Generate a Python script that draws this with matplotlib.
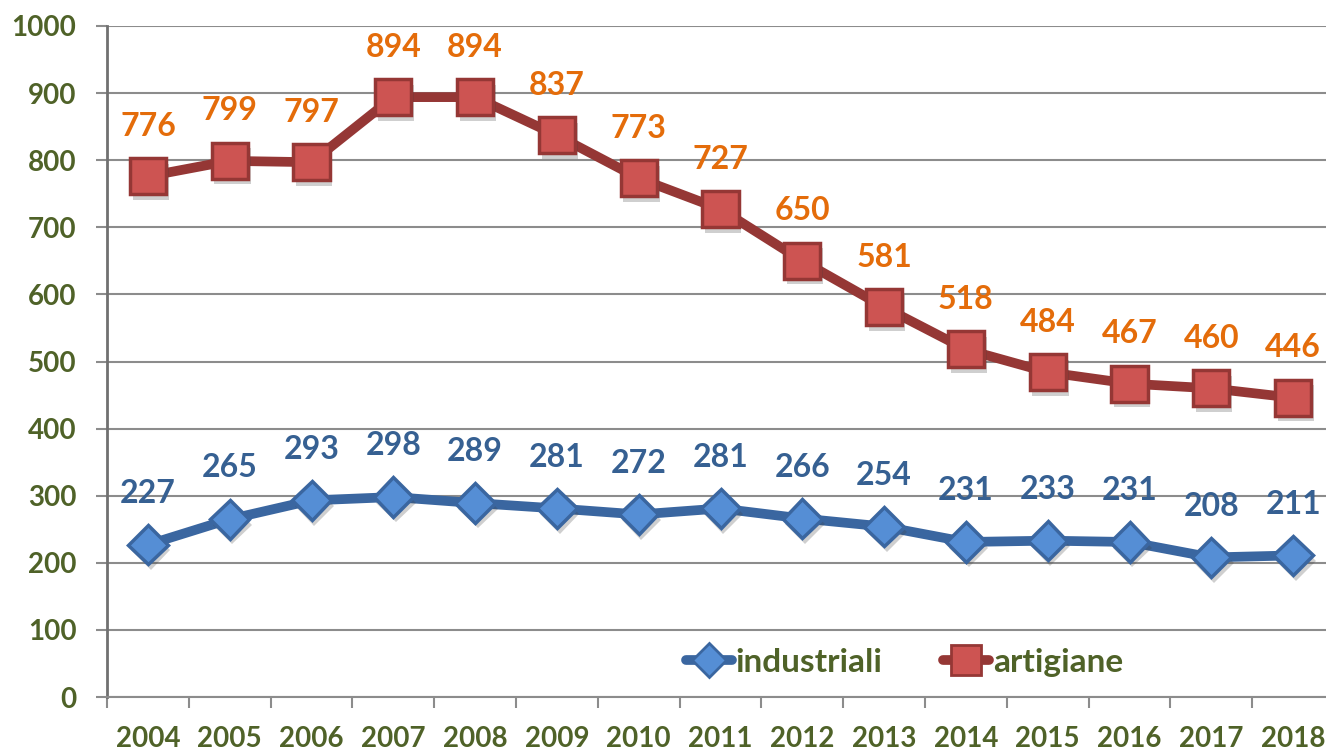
import matplotlib
matplotlib.use("Agg")
import matplotlib.pyplot as plt
import matplotlib.patheffects as pe
from matplotlib.lines import Line2D
from matplotlib.patches import Rectangle

years = ['2004', '2005', '2006', '2007', '2008', '2009', '2010', '2011',
         '2012', '2013', '2014', '2015', '2016', '2017', '2018']
industriali = [227, 265, 293, 298, 289, 281, 272, 281, 266, 254, 231, 233, 231, 208, 211]
artigiane = [776, 799, 797, 894, 894, 837, 773, 727, 650, 581, 518, 484, 467, 460, 446]

plt.rcParams['font.family'] = ['Lato', 'DejaVu Sans']
plt.rcParams['font.weight'] = 'bold'

green = '#4F6228'
grid_col = '#8C8C8C'
red_line, red_face = '#953735', '#CD5452'
blue_line, blue_face = '#3A66A0', '#558ED5'

fig = plt.figure(figsize=(13.26, 7.51), dpi=100)
ax = fig.add_axes([107 / 1326, 54 / 751, 1227 / 1326, 671 / 751])

x = list(range(len(years)))
shadow = [pe.SimplePatchShadow(offset=(2, -4), alpha=0.25, shadow_rgbFace='#404040'), pe.Normal()]

# lines first, markers on top with a soft drop shadow
ax.plot(x, artigiane, color=red_line, lw=7, solid_capstyle='round', zorder=3)
ax.plot(x, industriali, color=blue_line, lw=7, solid_capstyle='round', zorder=3)
ax.plot(x, artigiane, ls='none', marker='s', ms=26, mfc=red_face, mec=red_line,
        mew=2.5, zorder=4, path_effects=shadow)
ax.plot(x, industriali, ls='none', marker='D', ms=20, mfc=blue_face, mec=blue_line,
        mew=2.5, zorder=4, path_effects=shadow)

for xi, v in zip(x, artigiane):
    ax.annotate(str(v), (xi, v), xytext=(0, 36), textcoords='offset points',
                ha='center', va='center', fontsize=23, fontweight='bold',
                color='#E46C0A', zorder=5)
for xi, v in zip(x, industriali):
    ax.annotate(str(v), (xi, v), xytext=(0, 37), textcoords='offset points',
                ha='center', va='center', fontsize=23, fontweight='bold',
                color='#366092', zorder=5)

ax.set_xlim(-0.5, len(years) - 0.5)
ax.set_ylim(0, 1000)
ax.set_yticks(range(0, 1001, 100))
ax.set_xticks(x)
ax.set_xticklabels(years)
ax.set_xticks([i - 0.5 for i in range(len(years) + 1)], minor=True)
ax.tick_params(axis='x', which='major', length=0, pad=21, labelsize=20, labelcolor=green)
ax.tick_params(axis='x', which='minor', length=8, width=1.5, color=grid_col)
ax.tick_params(axis='y', length=8, width=1.5, color=grid_col, pad=14,
               labelsize=20, labelcolor=green)
for lab in ax.get_xticklabels() + ax.get_yticklabels():
    lab.set_fontweight('bold')

ax.grid(axis='y', color=grid_col, lw=1.5)
ax.set_axisbelow(True)
for s in ['top', 'right']:
    ax.spines[s].set_visible(False)
ax.spines['left'].set_color('#707070')
ax.spines['left'].set_linewidth(2)
ax.spines['bottom'].set_color(grid_col)
ax.spines['bottom'].set_linewidth(1.5)

handles = [
    Line2D([], [], color=blue_line, lw=7, solid_capstyle='round', marker='D', ms=17,
           mfc=blue_face, mec=blue_line, mew=2),
    Line2D([], [], color=red_line, lw=7, solid_capstyle='round', marker='s', ms=21,
           mfc=red_face, mec=red_line, mew=2),
]
leg = fig.legend(handles, ['industriali', 'artigiane'], loc='center',
                 bbox_to_anchor=(0.682, 0.118), ncol=2, frameon=False, fontsize=24,
                 handlelength=1.4, handletextpad=0.1, columnspacing=1.8)
clip = Rectangle((0, 73), 1326, 700, transform=None)
for t in leg.get_texts():
    t.set_color(green)
    t.set_fontweight('bold')
    t.set_clip_path(clip)

fig.savefig('out.png', dpi=100)
